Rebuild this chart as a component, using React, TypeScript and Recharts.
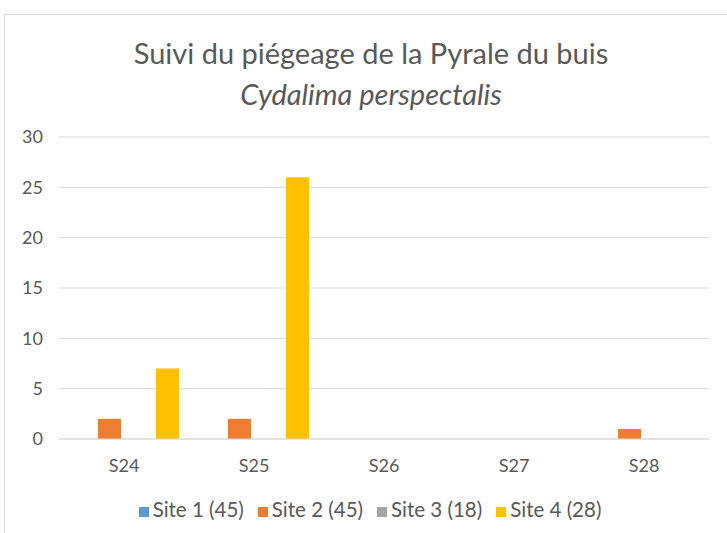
import React from "react";
import {
  BarChart,
  Bar,
  XAxis,
  YAxis,
  CartesianGrid,
  Legend,
} from "recharts";

// semaines de relevé
const weeks = ["S24", "S25", "S26", "S27", "S28"];

// captures par site
const site1 = [0, 0, 0, 0, 0];
const site2 = [2, 2, 0, 0, 1];
const site3 = [0, 0, 0, 0, 0];
const site4 = [7, 26, 0, 0, 0];

const seriesNames = ["Site 1 (45)", "Site 2 (45)", "Site 3 (18)", "Site 4 (28)"];
const seriesColors = ["#5B9BD5", "#ED7D31", "#A5A5A5", "#FFC000"];
const yTicks = [0, 5, 10, 15, 20, 25, 30];

const data = weeks.map((w, i) => ({
  week: w,
  s1: site1[i],
  s2: site2[i],
  s3: site3[i],
  s4: site4[i],
}));

const keys = ["s1", "s2", "s3", "s4"];
const font = "Lato, 'Open Sans', sans-serif";

const App = () => {
  return (
    <div
      style={{
        position: "absolute",
        left: 4,
        top: 14,
        width: 740,
        height: 540,
        border: "1px solid #d9d9d9",
        background: "#fff",
        fontFamily: font,
      }}
    >
      <div
        style={{
          position: "absolute",
          top: 17,
          left: 0,
          width: 732,
          textAlign: "center",
          color: "#595959",
          fontSize: 29,
          lineHeight: "41px",
        }}
      >
        <div>Suivi du piégeage de la Pyrale du buis</div>
        <div style={{ fontStyle: "italic" }}>Cydalima perspectalis</div>
      </div>
      <BarChart
        width={723}
        height={520}
        data={data}
        barSize={23}
        barGap={6}
        margin={{ top: 122, right: 19, left: 0, bottom: 42 }}
      >
        <CartesianGrid vertical={false} stroke="#d9d9d9" />
        <XAxis
          dataKey="week"
          height={30}
          axisLine={{ stroke: "#d9d9d9" }}
          tickLine={false}
          tickMargin={14}
          tick={{ fill: "#595959", fontSize: 18, fontFamily: font }}
        />
        <YAxis
          width={54}
          domain={[0, 30]}
          ticks={yTicks}
          axisLine={false}
          tickLine={false}
          tickMargin={10}
          tick={{ fill: "#595959", fontSize: 18, fontFamily: font }}
        />
        <Legend
          iconType="square"
          iconSize={10}
          wrapperStyle={{
            bottom: 14,
            left: 20,
            height: 24,
            lineHeight: "24px",
            fontFamily: font,
            fontSize: 20.5,
          }}
          formatter={(v: any) => <span style={{ color: "#595959", marginRight: 4 }}>{v}</span>}
        />
        {keys.map((k, i) => (
          <Bar
            key={k}
            dataKey={k}
            name={seriesNames[i]}
            fill={seriesColors[i]}
            isAnimationActive={false}
          />
        ))}
      </BarChart>
    </div>
  );
};

export default App;
